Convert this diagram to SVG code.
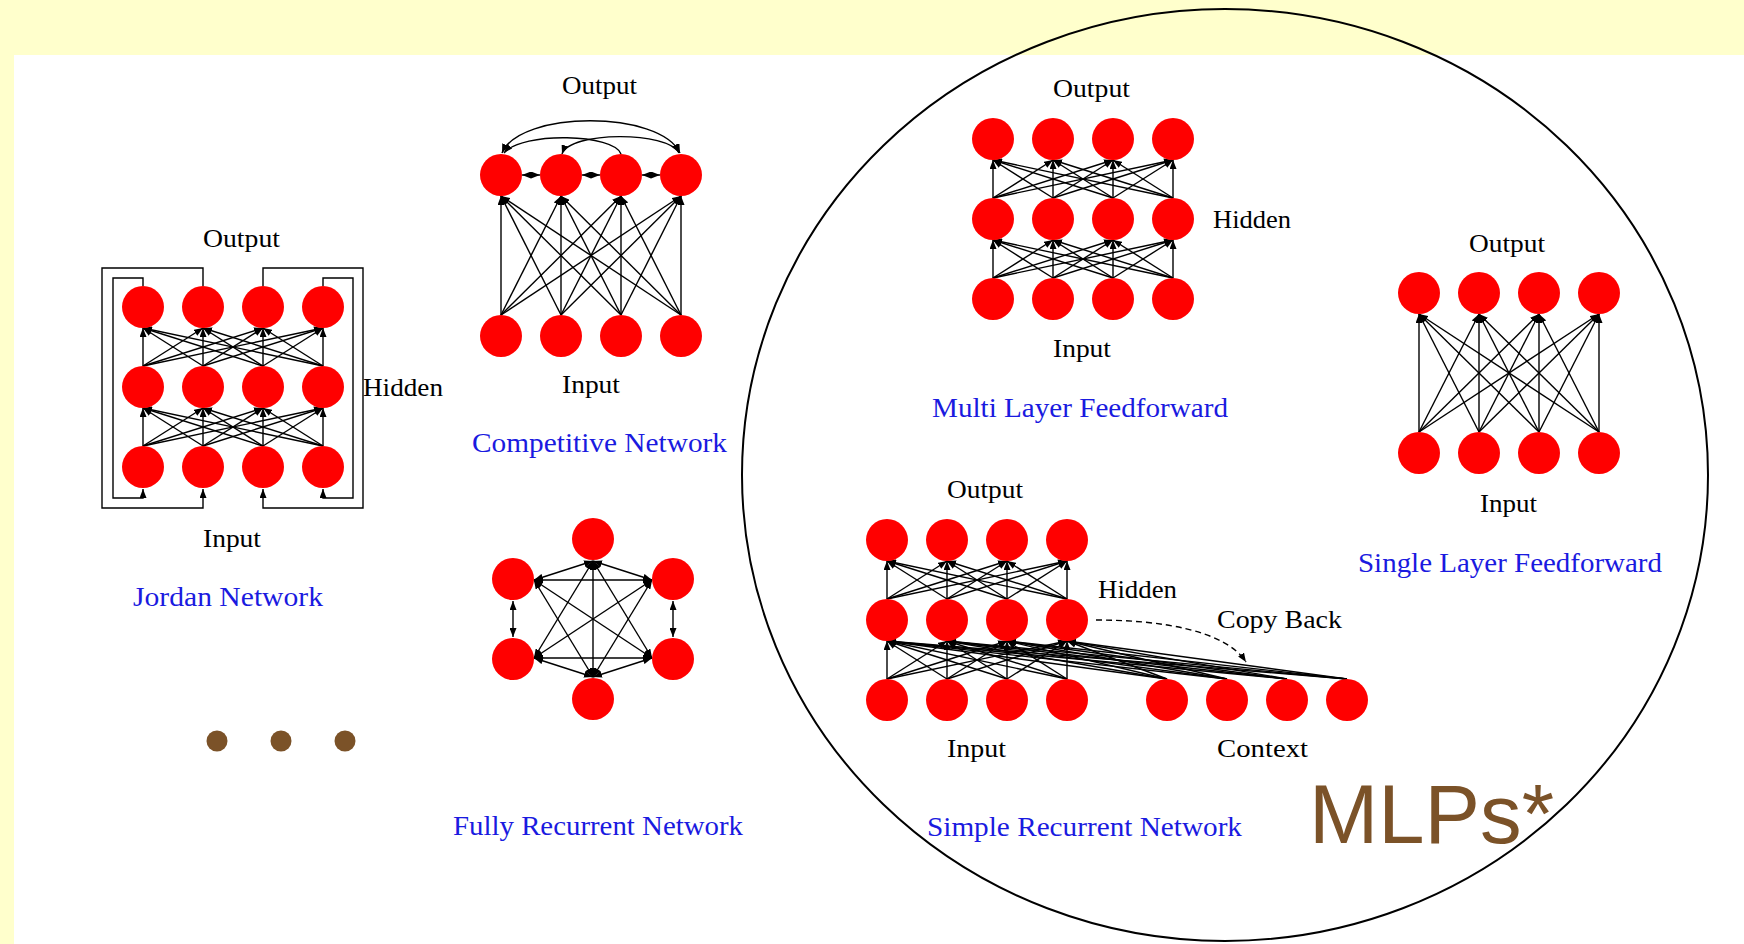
<svg xmlns="http://www.w3.org/2000/svg" width="1744" height="944" viewBox="0 0 1744 944">
<defs>
<style>
.bg{fill:#FFFFCC}
.panel{fill:#FFFFFF}
.n{fill:#FF0000}
.c line,.c path{stroke:#000;stroke-width:1.4;fill:none}
.c line{marker-end:url(#ah)}
.c .both{marker-start:url(#ahs);marker-end:url(#ah)}
.c .dash{stroke-dasharray:6 4}
.lbl{font-family:"Liberation Serif","DejaVu Serif",serif;font-size:25px;fill:#000}
.ttl{font-family:"Liberation Serif","DejaVu Serif",serif;font-size:27px;fill:#1A1AE0}
.big{font-family:"Liberation Sans",Arial,sans-serif;font-size:84px;fill:#7B5228}
.dot{fill:#7B5228}
.ring{fill:none;stroke:#000;stroke-width:2}
</style>
<marker id="ah" viewBox="0 0 9 7" refX="9" refY="3.5" markerWidth="9" markerHeight="7" markerUnits="userSpaceOnUse" orient="auto"><path d="M0,0 L9,3.5 L0,7 z" fill="#000"/></marker>
<marker id="ahs" viewBox="0 0 9 7" refX="0" refY="3.5" markerWidth="9" markerHeight="7" markerUnits="userSpaceOnUse" orient="auto"><path d="M9,0 L0,3.5 L9,7 z" fill="#000"/></marker>
</defs>
<rect class="bg" x="0" y="0" width="1744" height="944"/>
<rect class="panel" x="14" y="55" width="1730" height="889"/>

<g id="connectors" class="c">
<!-- Jordan input->hidden -->
<line x1="143" y1="446" x2="143" y2="408"/><line x1="143" y1="446" x2="203" y2="408"/><line x1="143" y1="446" x2="263" y2="408"/><line x1="143" y1="446" x2="323" y2="408"/>
<line x1="203" y1="446" x2="143" y2="408"/><line x1="203" y1="446" x2="203" y2="408"/><line x1="203" y1="446" x2="263" y2="408"/><line x1="203" y1="446" x2="323" y2="408"/>
<line x1="263" y1="446" x2="143" y2="408"/><line x1="263" y1="446" x2="203" y2="408"/><line x1="263" y1="446" x2="263" y2="408"/><line x1="263" y1="446" x2="323" y2="408"/>
<line x1="323" y1="446" x2="143" y2="408"/><line x1="323" y1="446" x2="203" y2="408"/><line x1="323" y1="446" x2="263" y2="408"/><line x1="323" y1="446" x2="323" y2="408"/>
<!-- Jordan hidden->output -->
<line x1="143" y1="366" x2="143" y2="328"/><line x1="143" y1="366" x2="203" y2="328"/><line x1="143" y1="366" x2="263" y2="328"/><line x1="143" y1="366" x2="323" y2="328"/>
<line x1="203" y1="366" x2="143" y2="328"/><line x1="203" y1="366" x2="203" y2="328"/><line x1="203" y1="366" x2="263" y2="328"/><line x1="203" y1="366" x2="323" y2="328"/>
<line x1="263" y1="366" x2="143" y2="328"/><line x1="263" y1="366" x2="203" y2="328"/><line x1="263" y1="366" x2="263" y2="328"/><line x1="263" y1="366" x2="323" y2="328"/>
<line x1="323" y1="366" x2="143" y2="328"/><line x1="323" y1="366" x2="203" y2="328"/><line x1="323" y1="366" x2="263" y2="328"/><line x1="323" y1="366" x2="323" y2="328"/>
<!-- Jordan feedback loops -->
<path d="M143 286 V278 H113 V498 H143 V489" style="marker-end:url(#ah)"/>
<path d="M203 286 V268 H102 V508 H203 V489" style="marker-end:url(#ah)"/>
<path d="M263 286 V268 H363 V508 H263 V489" style="marker-end:url(#ah)"/>
<path d="M323 286 V278 H353 V498 H323 V489" style="marker-end:url(#ah)"/>

<!-- Competitive input->output -->
<line x1="501" y1="315" x2="501" y2="196"/><line x1="501" y1="315" x2="561" y2="196"/><line x1="501" y1="315" x2="621" y2="196"/><line x1="501" y1="315" x2="681" y2="196"/>
<line x1="561" y1="315" x2="501" y2="196"/><line x1="561" y1="315" x2="561" y2="196"/><line x1="561" y1="315" x2="621" y2="196"/><line x1="561" y1="315" x2="681" y2="196"/>
<line x1="621" y1="315" x2="501" y2="196"/><line x1="621" y1="315" x2="561" y2="196"/><line x1="621" y1="315" x2="621" y2="196"/><line x1="621" y1="315" x2="681" y2="196"/>
<line x1="681" y1="315" x2="501" y2="196"/><line x1="681" y1="315" x2="561" y2="196"/><line x1="681" y1="315" x2="621" y2="196"/><line x1="681" y1="315" x2="681" y2="196"/>
<!-- Competitive lateral -->
<line class="both" x1="522" y1="175" x2="540" y2="175"/>
<line class="both" x1="582" y1="175" x2="600" y2="175"/>
<line class="both" x1="642" y1="175" x2="660" y2="175"/>
<path d="M502 153 C520 110 660 110 680 153" style="marker-start:url(#ahs);marker-end:url(#ah)"/>
<path d="M621 154 C615 134 522 131 504 153" style="marker-end:url(#ah)"/>
<path d="M562 154 C570 131 668 131 679 153" style="marker-start:url(#ahs);marker-end:url(#ah)"/>

<!-- Fully recurrent -->
<line class="both" x1="593" y1="561" x2="534" y2="580"/>
<line class="both" x1="593" y1="561" x2="652" y2="580"/>
<line class="both" x1="593" y1="561" x2="534" y2="658"/>
<line class="both" x1="593" y1="561" x2="652" y2="658"/>
<line class="both" x1="593" y1="561" x2="593" y2="677"/>
<line class="both" x1="534" y1="580" x2="652" y2="580"/>
<line class="both" x1="534" y1="580" x2="652" y2="658"/>
<line class="both" x1="534" y1="580" x2="593" y2="677"/>
<line class="both" x1="652" y1="580" x2="534" y2="658"/>
<line class="both" x1="652" y1="580" x2="593" y2="677"/>
<line class="both" x1="534" y1="658" x2="652" y2="658"/>
<line class="both" x1="534" y1="658" x2="593" y2="677"/>
<line class="both" x1="652" y1="658" x2="593" y2="677"/>
<line class="both" x1="513" y1="601" x2="513" y2="637"/>
<line class="both" x1="673" y1="601" x2="673" y2="637"/>

<!-- Multi layer input->hidden -->
<line x1="993" y1="278" x2="993" y2="240"/><line x1="993" y1="278" x2="1053" y2="240"/><line x1="993" y1="278" x2="1113" y2="240"/><line x1="993" y1="278" x2="1173" y2="240"/>
<line x1="1053" y1="278" x2="993" y2="240"/><line x1="1053" y1="278" x2="1053" y2="240"/><line x1="1053" y1="278" x2="1113" y2="240"/><line x1="1053" y1="278" x2="1173" y2="240"/>
<line x1="1113" y1="278" x2="993" y2="240"/><line x1="1113" y1="278" x2="1053" y2="240"/><line x1="1113" y1="278" x2="1113" y2="240"/><line x1="1113" y1="278" x2="1173" y2="240"/>
<line x1="1173" y1="278" x2="993" y2="240"/><line x1="1173" y1="278" x2="1053" y2="240"/><line x1="1173" y1="278" x2="1113" y2="240"/><line x1="1173" y1="278" x2="1173" y2="240"/>
<!-- Multi layer hidden->output -->
<line x1="993" y1="198" x2="993" y2="160"/><line x1="993" y1="198" x2="1053" y2="160"/><line x1="993" y1="198" x2="1113" y2="160"/><line x1="993" y1="198" x2="1173" y2="160"/>
<line x1="1053" y1="198" x2="993" y2="160"/><line x1="1053" y1="198" x2="1053" y2="160"/><line x1="1053" y1="198" x2="1113" y2="160"/><line x1="1053" y1="198" x2="1173" y2="160"/>
<line x1="1113" y1="198" x2="993" y2="160"/><line x1="1113" y1="198" x2="1053" y2="160"/><line x1="1113" y1="198" x2="1113" y2="160"/><line x1="1113" y1="198" x2="1173" y2="160"/>
<line x1="1173" y1="198" x2="993" y2="160"/><line x1="1173" y1="198" x2="1053" y2="160"/><line x1="1173" y1="198" x2="1113" y2="160"/><line x1="1173" y1="198" x2="1173" y2="160"/>

<!-- Single layer input->output -->
<line x1="1419" y1="432" x2="1419" y2="314"/><line x1="1419" y1="432" x2="1479" y2="314"/><line x1="1419" y1="432" x2="1539" y2="314"/><line x1="1419" y1="432" x2="1599" y2="314"/>
<line x1="1479" y1="432" x2="1419" y2="314"/><line x1="1479" y1="432" x2="1479" y2="314"/><line x1="1479" y1="432" x2="1539" y2="314"/><line x1="1479" y1="432" x2="1599" y2="314"/>
<line x1="1539" y1="432" x2="1419" y2="314"/><line x1="1539" y1="432" x2="1479" y2="314"/><line x1="1539" y1="432" x2="1539" y2="314"/><line x1="1539" y1="432" x2="1599" y2="314"/>
<line x1="1599" y1="432" x2="1419" y2="314"/><line x1="1599" y1="432" x2="1479" y2="314"/><line x1="1599" y1="432" x2="1539" y2="314"/><line x1="1599" y1="432" x2="1599" y2="314"/>

<!-- Simple recurrent input->hidden -->
<line x1="887" y1="679" x2="887" y2="641"/><line x1="887" y1="679" x2="947" y2="641"/><line x1="887" y1="679" x2="1007" y2="641"/><line x1="887" y1="679" x2="1067" y2="641"/>
<line x1="947" y1="679" x2="887" y2="641"/><line x1="947" y1="679" x2="947" y2="641"/><line x1="947" y1="679" x2="1007" y2="641"/><line x1="947" y1="679" x2="1067" y2="641"/>
<line x1="1007" y1="679" x2="887" y2="641"/><line x1="1007" y1="679" x2="947" y2="641"/><line x1="1007" y1="679" x2="1007" y2="641"/><line x1="1007" y1="679" x2="1067" y2="641"/>
<line x1="1067" y1="679" x2="887" y2="641"/><line x1="1067" y1="679" x2="947" y2="641"/><line x1="1067" y1="679" x2="1007" y2="641"/><line x1="1067" y1="679" x2="1067" y2="641"/>
<!-- Simple recurrent context->hidden -->
<line x1="1167" y1="679" x2="887" y2="641"/><line x1="1167" y1="679" x2="947" y2="641"/><line x1="1167" y1="679" x2="1007" y2="641"/><line x1="1167" y1="679" x2="1067" y2="641"/>
<line x1="1227" y1="679" x2="887" y2="641"/><line x1="1227" y1="679" x2="947" y2="641"/><line x1="1227" y1="679" x2="1007" y2="641"/><line x1="1227" y1="679" x2="1067" y2="641"/>
<line x1="1287" y1="679" x2="887" y2="641"/><line x1="1287" y1="679" x2="947" y2="641"/><line x1="1287" y1="679" x2="1007" y2="641"/><line x1="1287" y1="679" x2="1067" y2="641"/>
<line x1="1347" y1="679" x2="887" y2="641"/><line x1="1347" y1="679" x2="947" y2="641"/><line x1="1347" y1="679" x2="1007" y2="641"/><line x1="1347" y1="679" x2="1067" y2="641"/>
<!-- Simple recurrent hidden->output -->
<line x1="887" y1="599" x2="887" y2="561"/><line x1="887" y1="599" x2="947" y2="561"/><line x1="887" y1="599" x2="1007" y2="561"/><line x1="887" y1="599" x2="1067" y2="561"/>
<line x1="947" y1="599" x2="887" y2="561"/><line x1="947" y1="599" x2="947" y2="561"/><line x1="947" y1="599" x2="1007" y2="561"/><line x1="947" y1="599" x2="1067" y2="561"/>
<line x1="1007" y1="599" x2="887" y2="561"/><line x1="1007" y1="599" x2="947" y2="561"/><line x1="1007" y1="599" x2="1007" y2="561"/><line x1="1007" y1="599" x2="1067" y2="561"/>
<line x1="1067" y1="599" x2="887" y2="561"/><line x1="1067" y1="599" x2="947" y2="561"/><line x1="1067" y1="599" x2="1007" y2="561"/><line x1="1067" y1="599" x2="1067" y2="561"/>
<!-- Copy back -->
<path class="dash" d="M1096 620 C1160 620 1225 630 1246 662" style="marker-end:url(#ah)"/>
</g>

<g id="jordan-network">
<circle class="n" cx="143" cy="307" r="21"/><circle class="n" cx="203" cy="307" r="21"/><circle class="n" cx="263" cy="307" r="21"/><circle class="n" cx="323" cy="307" r="21"/>
<circle class="n" cx="143" cy="387" r="21"/><circle class="n" cx="203" cy="387" r="21"/><circle class="n" cx="263" cy="387" r="21"/><circle class="n" cx="323" cy="387" r="21"/>
<circle class="n" cx="143" cy="467" r="21"/><circle class="n" cx="203" cy="467" r="21"/><circle class="n" cx="263" cy="467" r="21"/><circle class="n" cx="323" cy="467" r="21"/>
<text class="lbl" x="203" y="247" textLength="77" lengthAdjust="spacingAndGlyphs">Output</text>
<text class="lbl" x="363" y="396" textLength="80" lengthAdjust="spacingAndGlyphs">Hidden</text>
<text class="lbl" x="203" y="547" textLength="58" lengthAdjust="spacingAndGlyphs">Input</text>
<text class="ttl" x="133" y="606" textLength="190" lengthAdjust="spacingAndGlyphs">Jordan Network</text>
</g>

<g id="competitive-network">
<circle class="n" cx="501" cy="175" r="21"/><circle class="n" cx="561" cy="175" r="21"/><circle class="n" cx="621" cy="175" r="21"/><circle class="n" cx="681" cy="175" r="21"/>
<circle class="n" cx="501" cy="336" r="21"/><circle class="n" cx="561" cy="336" r="21"/><circle class="n" cx="621" cy="336" r="21"/><circle class="n" cx="681" cy="336" r="21"/>
<text class="lbl" x="562" y="94" textLength="75" lengthAdjust="spacingAndGlyphs">Output</text>
<text class="lbl" x="562" y="393" textLength="58" lengthAdjust="spacingAndGlyphs">Input</text>
<text class="ttl" x="472" y="452" textLength="255" lengthAdjust="spacingAndGlyphs">Competitive Network</text>
</g>

<g id="fully-recurrent-network">
<circle class="n" cx="593" cy="539" r="21"/>
<circle class="n" cx="513" cy="579" r="21"/><circle class="n" cx="673" cy="579" r="21"/>
<circle class="n" cx="513" cy="659" r="21"/><circle class="n" cx="673" cy="659" r="21"/>
<circle class="n" cx="593" cy="699" r="21"/>
<text class="ttl" x="453" y="835" textLength="290" lengthAdjust="spacingAndGlyphs">Fully Recurrent Network</text>
</g>

<g id="ellipsis">
<circle class="dot" cx="217" cy="741" r="10.5"/><circle class="dot" cx="281" cy="741" r="10.5"/><circle class="dot" cx="345" cy="741" r="10.5"/>
</g>

<g id="mlp-boundary">
<ellipse class="ring" cx="1225" cy="475" rx="483" ry="466"/>
</g>

<g id="multi-layer-feedforward">
<circle class="n" cx="993" cy="139" r="21"/><circle class="n" cx="1053" cy="139" r="21"/><circle class="n" cx="1113" cy="139" r="21"/><circle class="n" cx="1173" cy="139" r="21"/>
<circle class="n" cx="993" cy="219" r="21"/><circle class="n" cx="1053" cy="219" r="21"/><circle class="n" cx="1113" cy="219" r="21"/><circle class="n" cx="1173" cy="219" r="21"/>
<circle class="n" cx="993" cy="299" r="21"/><circle class="n" cx="1053" cy="299" r="21"/><circle class="n" cx="1113" cy="299" r="21"/><circle class="n" cx="1173" cy="299" r="21"/>
<text class="lbl" x="1053" y="97" textLength="77" lengthAdjust="spacingAndGlyphs">Output</text>
<text class="lbl" x="1213" y="228" textLength="78" lengthAdjust="spacingAndGlyphs">Hidden</text>
<text class="lbl" x="1053" y="357" textLength="58" lengthAdjust="spacingAndGlyphs">Input</text>
<text class="ttl" x="932" y="417" textLength="296" lengthAdjust="spacingAndGlyphs">Multi Layer Feedforward</text>
</g>

<g id="single-layer-feedforward">
<circle class="n" cx="1419" cy="293" r="21"/><circle class="n" cx="1479" cy="293" r="21"/><circle class="n" cx="1539" cy="293" r="21"/><circle class="n" cx="1599" cy="293" r="21"/>
<circle class="n" cx="1419" cy="453" r="21"/><circle class="n" cx="1479" cy="453" r="21"/><circle class="n" cx="1539" cy="453" r="21"/><circle class="n" cx="1599" cy="453" r="21"/>
<text class="lbl" x="1469" y="252" textLength="76" lengthAdjust="spacingAndGlyphs">Output</text>
<text class="lbl" x="1480" y="512" textLength="57" lengthAdjust="spacingAndGlyphs">Input</text>
<text class="ttl" x="1358" y="572" textLength="304" lengthAdjust="spacingAndGlyphs">Single Layer Feedforward</text>
</g>

<g id="simple-recurrent-network">
<circle class="n" cx="887" cy="540" r="21"/><circle class="n" cx="947" cy="540" r="21"/><circle class="n" cx="1007" cy="540" r="21"/><circle class="n" cx="1067" cy="540" r="21"/>
<circle class="n" cx="887" cy="620" r="21"/><circle class="n" cx="947" cy="620" r="21"/><circle class="n" cx="1007" cy="620" r="21"/><circle class="n" cx="1067" cy="620" r="21"/>
<circle class="n" cx="887" cy="700" r="21"/><circle class="n" cx="947" cy="700" r="21"/><circle class="n" cx="1007" cy="700" r="21"/><circle class="n" cx="1067" cy="700" r="21"/>
<circle class="n" cx="1167" cy="700" r="21"/><circle class="n" cx="1227" cy="700" r="21"/><circle class="n" cx="1287" cy="700" r="21"/><circle class="n" cx="1347" cy="700" r="21"/>
<text class="lbl" x="947" y="498" textLength="76" lengthAdjust="spacingAndGlyphs">Output</text>
<text class="lbl" x="1098" y="598" textLength="79" lengthAdjust="spacingAndGlyphs">Hidden</text>
<text class="lbl" x="1217" y="628" textLength="125" lengthAdjust="spacingAndGlyphs">Copy Back</text>
<text class="lbl" x="947" y="757" textLength="59" lengthAdjust="spacingAndGlyphs">Input</text>
<text class="lbl" x="1217" y="757" textLength="91" lengthAdjust="spacingAndGlyphs">Context</text>
<text class="ttl" x="927" y="836" textLength="315" lengthAdjust="spacingAndGlyphs">Simple Recurrent Network</text>
</g>

<g id="mlps-label">
<text class="big" x="1309" y="843" textLength="245" lengthAdjust="spacingAndGlyphs">MLPs*</text>
</g>
</svg>
